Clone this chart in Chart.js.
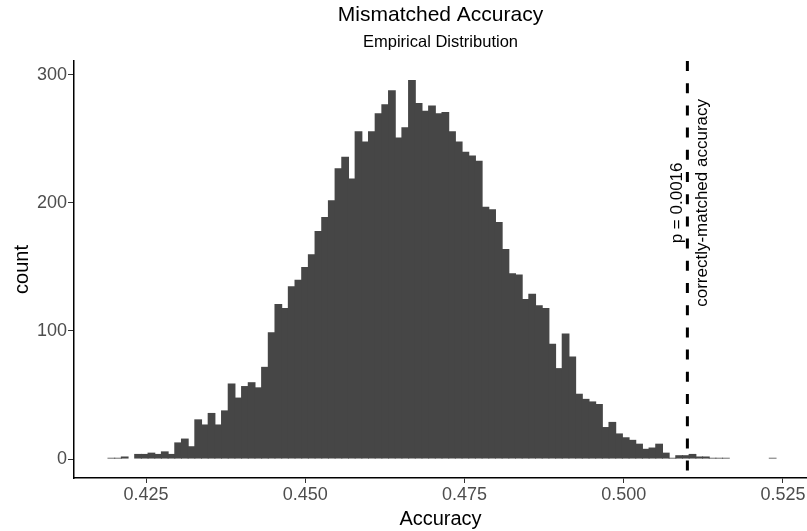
<!DOCTYPE html>
<html>
<head>
<meta charset="utf-8">
<script src="https://cdn.jsdelivr.net/npm/chart.js@4.4.1/dist/chart.umd.min.js"></script>
<style>
  html, body { margin: 0; padding: 0; background: #fff; }
  canvas { display: block; }
</style>
</head>
<body>
<canvas id="chart" width="807" height="531"></canvas>
<script>
// histogram of mismatched accuracies, 100 bins
const binStart = 0.419034;   // left edge of first bin
const binWidth = 0.0010488;
const counts = [
  1, 1, 2, 0, 4, 4, 5, 4, 6, 4,
  13, 16, 10, 31, 27, 36, 27, 38, 59, 48,
  57, 60, 56, 72, 99, 121, 118, 135, 140, 150,
  160, 178, 189, 202, 227, 236, 219, 256, 248, 256,
  270, 277, 288, 251, 259, 296, 278, 272, 276, 270,
  271, 256, 248, 240, 237, 233, 197, 195, 185, 164,
  145, 144, 125, 129, 120, 118, 90, 71, 98, 80,
  51, 47, 45, 43, 25, 29, 20, 17, 15, 12,
  8, 9, 12, 5, 1, 3, 3, 4, 2, 2,
  1, 1, 1, 0, 0, 0, 0, 0, 0, 1
];
const xTicks = [0.425, 0.450, 0.475, 0.500, 0.525];
const yTicks = [0, 100, 200, 300];
const xRange = [0.413695, 0.52878];
const yRange = [-14.8, 310.8];
const observedAccuracy = 0.51;
const pLabel = 'p = 0.0016';
const lineLabel = 'correctly-matched accuracy';
const labelAtCount = 200;

const FONT = "'Liberation Sans', Arial, Helvetica, sans-serif";

const binCenters = counts.map((_, i) => binStart + binWidth * (i + 0.5));
const points = binCenters.map((x, i) => ({ x, y: counts[i] }));

// dashed reference line + rotated labels
const vlinePlugin = {
  id: 'vline',
  afterDatasetsDraw(chart) {
    const { ctx, chartArea, scales: { x, y } } = chart;
    const px = x.getPixelForValue(observedAccuracy);
    const py = y.getPixelForValue(labelAtCount);
    ctx.save();
    ctx.strokeStyle = '#000';
    ctx.lineWidth = 3;
    ctx.setLineDash([10, 12.2]);
    ctx.beginPath();
    ctx.moveTo(px, chartArea.top);
    ctx.lineTo(px, chartArea.bottom);
    ctx.stroke();
    ctx.setLineDash([]);
    ctx.fillStyle = '#000';
    ctx.font = '17px ' + FONT;
    ctx.textAlign = 'center';
    ctx.textBaseline = 'alphabetic';
    [[pLabel, -5], [lineLabel, 19.5]].forEach(([text, dx]) => {
      ctx.save();
      ctx.translate(px + dx, py);
      ctx.rotate(-Math.PI / 2);
      ctx.fillText(text, 0, 0);
      ctx.restore();
    });
    ctx.restore();
  }
};

const tickFont = { family: FONT, size: 18 };

new Chart(document.getElementById('chart'), {
  type: 'bar',
  data: {
    datasets: [{
      data: points,
      backgroundColor: '#464646',
      borderWidth: 0,
      // overlap neighbours by ~1px so no hairline seams show between bins
      barPercentage: 1.16,
      categoryPercentage: 1,
      inflateAmount: 0
    }]
  },
  options: {
    responsive: false,
    animation: false,
    devicePixelRatio: 1,
    layout: { padding: 0 },
    plugins: {
      legend: { display: false },
      tooltip: { enabled: false },
      title: {
        display: true,
        text: 'Mismatched Accuracy',
        fullSize: false,
        color: '#000',
        font: { family: FONT, size: 21, weight: 'normal' },
        padding: { top: 3, bottom: 4 }
      },
      subtitle: {
        display: true,
        text: 'Empirical Distribution',
        fullSize: false,
        color: '#000',
        font: { family: FONT, size: 16.5, weight: 'normal' },
        padding: { top: 0, bottom: 9 }
      }
    },
    scales: {
      x: {
        type: 'linear',
        min: xRange[0],
        max: xRange[1],
        offset: false,
        afterBuildTicks: s => { s.ticks = xTicks.map(v => ({ value: v })); },
        afterFit: s => { s.height = 53; },
        ticks: {
          callback: v => v.toFixed(3),
          font: tickFont,
          color: '#4d4d4d',
          padding: 1,
          maxRotation: 0,
          autoSkip: false
        },
        grid: { display: true, offset: false, drawOnChartArea: false, drawTicks: true, tickLength: 5, color: '#333333', lineWidth: 1 },
        border: { display: true, color: '#000', width: 1.5 },
        title: {
          display: true,
          text: 'Accuracy',
          color: '#000',
          font: { family: FONT, size: 20 },
          padding: { top: 0, bottom: 0 }
        }
      },
      y: {
        type: 'linear',
        min: yRange[0],
        max: yRange[1],
        afterBuildTicks: s => { s.ticks = yTicks.map(v => ({ value: v })); },
        afterFit: s => { s.width = 74; },
        ticks: {
          font: tickFont,
          color: '#4d4d4d',
          padding: 1
        },
        grid: { display: true, offset: false, drawOnChartArea: false, drawTicks: true, tickLength: 6, color: '#333333', lineWidth: 1 },
        border: { display: true, color: '#000', width: 1.5 },
        title: {
          display: true,
          text: 'count',
          color: '#000',
          font: { family: FONT, size: 20 },
          padding: { top: 10, bottom: 0 }
        }
      }
    }
  },
  plugins: [vlinePlugin]
});
</script>
</body>
</html>
